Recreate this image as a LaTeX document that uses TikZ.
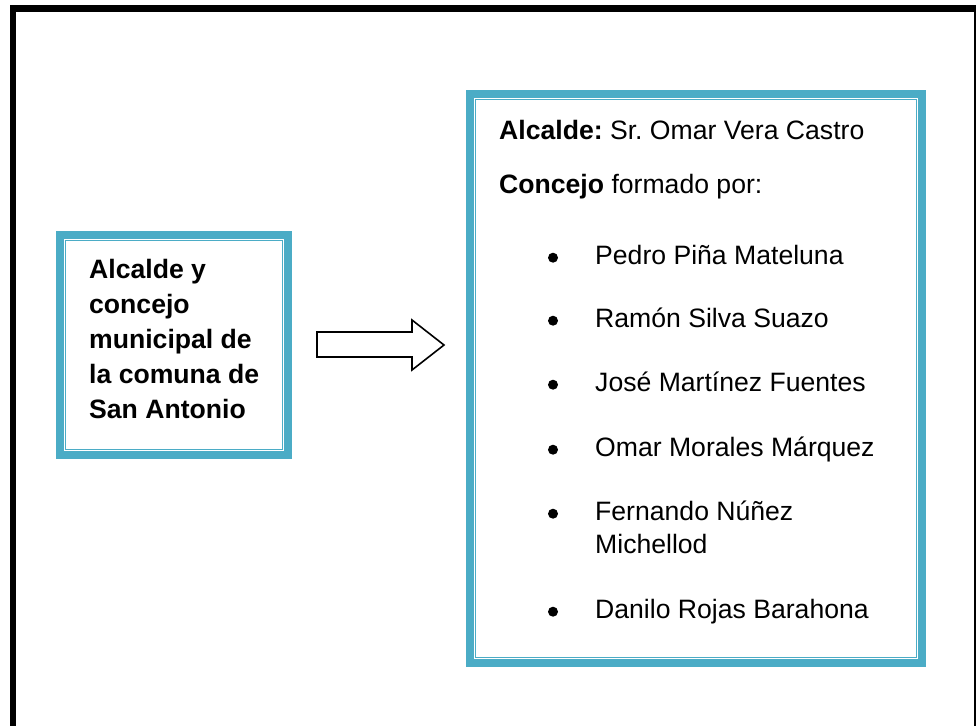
\documentclass[tikz,border=0pt]{standalone}
\usepackage{fontspec}
\setmainfont{Liberation Sans}
\frenchspacing
\definecolor{azul}{RGB}{75,172,198}
\tikzset{
  caja/.style={draw=azul, line width=8pt, inner sep=0pt},
  filete/.style={draw=azul, line width=1.8pt},
  filetefino/.style={draw=azul, line width=1pt},
  texto/.style={font=\fontsize{26.6}{32}\selectfont, anchor=base west, inner sep=0pt},
  negrita/.style={texto, font=\fontsize{26.6}{32}\selectfont\bfseries},
}
\begin{document}
\begin{tikzpicture}[x=1pt,y=-1pt]
\useasboundingbox (0,0) rectangle (977,726);
\fill[black] (10,5) rectangle (16,726);
\fill[black] (10,5) rectangle (975,12);
\draw[line width=1.5pt] (975,5) -- (975,726);

\node[caja, minimum width=228pt, minimum height=220pt] (izq) at (174,345) {};
\node[caja, minimum width=452pt, minimum height=569pt] (der) at (696,378.5) {};
\foreach \n in {izq,der}{
  \draw[filete] ([shift={(7,7)}]\n.north west) rectangle ([shift={(-7,-7)}]\n.south east);
  \draw[filetefino] ([shift={(9.5,9.5)}]\n.north west) rectangle ([shift={(-9.5,-9.5)}]\n.south east);
}

\foreach \t [count=\i] in {Alcalde y, concejo, municipal de, la comuna de, San Antonio}
  \node[negrita] (t\i) at (89,243+35*\i) {\t};

\draw[line width=1.6pt, line join=miter] (317,332) -- (412,332) -- (412,320) -- (444,345) -- (412,370) -- (412,357) -- (317,357) -- cycle;

\node[texto] (alcalde) at (499,139) {\textbf{Alcalde:} Sr. Omar Vera Castro};
\node[texto] (concejo) at (499,193) {\textbf{Concejo} formado por:};
\foreach \nombre/\b [count=\i] in {Pedro Piña Mateluna/264, Ramón Silva Suazo/327, José Martínez Fuentes/391, Omar Morales Márquez/456, Fernando Núñez/520, Danilo Rojas Barahona/618}{
  \fill (553,\b-6.3) circle (5pt);
  \node[texto] (m\i) at (595,\b) {\nombre};
}
\node[texto] (m5b) at (595,553) {Michellod};
\end{tikzpicture}
\end{document}
